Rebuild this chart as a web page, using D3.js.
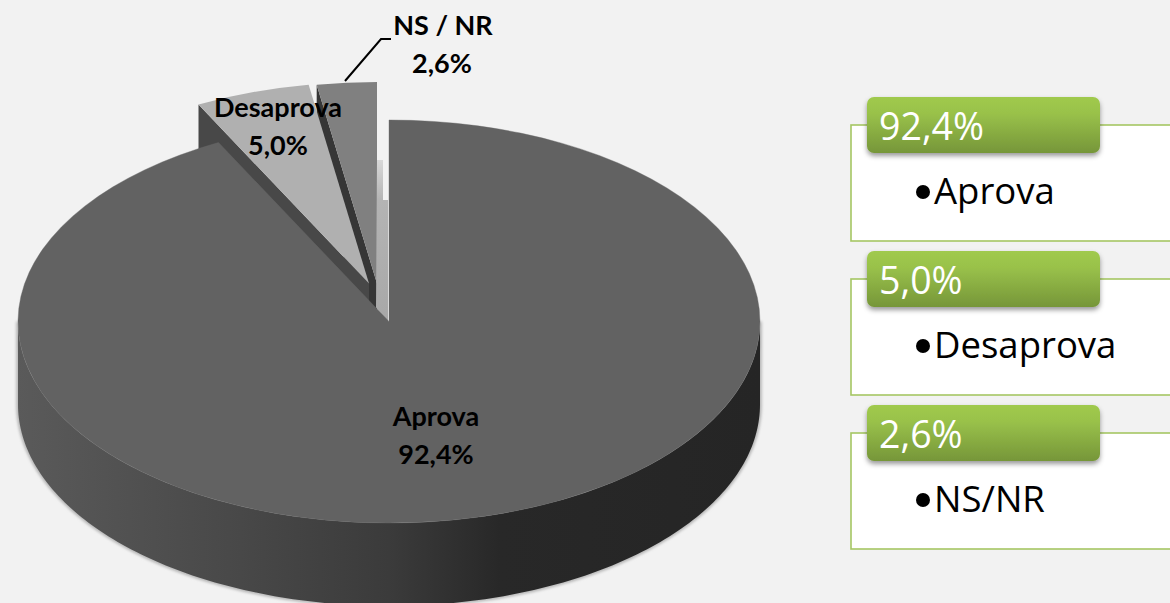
<!DOCTYPE html>
<html>
<head>
<meta charset="utf-8">
<script src="https://d3js.org/d3.v7.min.js"></script>
<style>
  html, body { margin: 0; padding: 0; background: #f2f2f2; overflow: hidden; }
  .pie-label { font-family: Lato, sans-serif; font-weight: 700; font-size: 27px; fill: #000; text-anchor: middle; }
  .tab-text { font-family: "Open Sans", sans-serif; font-size: 37.5px; fill: #fff; }
  .item-text { font-family: "Open Sans", sans-serif; font-size: 36.5px; fill: #000; }
</style>
</head>
<body>
<script>
const categories = ["Aprova", "Desaprova", "NS / NR"];
const values = [92.4, 5.0, 2.6];
const valueLabels = ["92,4%", "5,0%", "2,6%"];
const legendNames = ["Aprova", "Desaprova", "NS/NR"];
const topColors = ["#626262", "#b0b0b0", "#808080"];
const wallColors = ["#505050", "#484848", "#363636"];
const explode = [[0, 0], [-20, -38], [-12, -38]];
const labelPos = [[436, 426], [278, 117], [443, 35]];

const width = 1170, height = 603;
const cx = 389, cy = 321.5, rx = 371, ry = 201.5, depth = 83;

const svg = d3.select("body").append("svg")
  .attr("width", width).attr("height", height)
  .style("display", "block");

const defs = svg.append("defs");

const sideGrad = defs.append("linearGradient").attr("id", "side")
  .attr("x1", 0).attr("x2", 1).attr("y1", 0).attr("y2", 0);
[[0, "#5a5a5a"], [0.3, "#484848"], [0.5, "#3b3b3b"], [0.65, "#282828"], [1, "#252525"]]
  .forEach(s => sideGrad.append("stop").attr("offset", s[0]).attr("stop-color", s[1]));

const tabGrad = defs.append("linearGradient").attr("id", "tab")
  .attr("x1", 0).attr("x2", 0).attr("y1", 0).attr("y2", 1);
[[0, "#a0ca4d"], [0.3, "#99c14a"], [1, "#769639"]]
  .forEach(s => tabGrad.append("stop").attr("offset", s[0]).attr("stop-color", s[1]));

const gapGrad = defs.append("linearGradient").attr("id", "gap")
  .attr("x1", 0).attr("x2", 0).attr("y1", 0).attr("y2", 1);
[[0, "#d8d8d8"], [0.25, "#b4b4b4"], [1, "#a8a8a8"]]
  .forEach(s => gapGrad.append("stop").attr("offset", s[0]).attr("stop-color", s[1]));

const shadow = defs.append("filter").attr("id", "tabShadow")
  .attr("x", "-5%").attr("y", "-10%").attr("width", "110%").attr("height", "130%");
shadow.append("feDropShadow").attr("dx", 0).attr("dy", 3).attr("stdDeviation", 2.5)
  .attr("flood-color", "#000").attr("flood-opacity", 0.4);

const glow = defs.append("filter").attr("id", "rimGlow")
  .attr("x", "-3%").attr("y", "-3%").attr("width", "106%").attr("height", "106%");
glow.append("feGaussianBlur").attr("stdDeviation", 1.5);

// pie layout, clockwise from 12 o'clock
const pie = d3.pie().sort(null).value(d => d)(values);
const arc = d3.arc().innerRadius(0).outerRadius(rx);
const squash = ry / rx;

function corner(angle, off) {
  return [cx + off[0] + rx * Math.sin(angle), cy + off[1] - ry * Math.cos(angle)];
}

function sideWall(i) {
  const off = explode[i];
  const tip = [cx + off[0], cy + off[1]];
  const c = corner(pie[i].startAngle, off);
  return d3.line()([tip, c, [c[0], c[1] + depth], [tip[0], tip[1] + depth]]);
}

function sliceTop(i) {
  return svg.append("path")
    .attr("d", arc(pie[i]))
    .attr("transform", `translate(${cx + explode[i][0]},${cy + explode[i][1]}) scale(1,${squash})`)
    .attr("fill", topColors[i]);
}

// back slices first
svg.append("path").attr("d", sideWall(2)).attr("fill", wallColors[2]);
svg.append("path").attr("d", sideWall(1)).attr("fill", wallColors[1]);
sliceTop(1);
sliceTop(2);

// light inner face visible in the gap
svg.append("path")
  .attr("d", d3.line()([[cx - 12, 160], [cx - 6, 160], [cx - 6, 200], [cx - 1, 200], [cx - 1, cy], [cx - 13, cy - 14]]))
  .attr("fill", "url(#gap)");

// main body outer wall
const bodyPath = (() => {
  const p = d3.path();
  const n = d3.range(0, 181).map(d => d * Math.PI / 180);
  n.forEach((a, k) => {
    const x = cx + rx * Math.cos(a), y = cy + ry * Math.sin(a);
    if (k === 0) p.moveTo(x, y); else p.lineTo(x, y);
  });
  n.slice().reverse().forEach(a => {
    p.lineTo(cx + rx * Math.cos(a), cy + depth + ry * Math.sin(a));
  });
  p.closePath();
  return p.toString();
})();

svg.append("path").attr("d", bodyPath).attr("fill", "none")
  .attr("stroke", "#a8a8a8").attr("stroke-width", 3).attr("filter", "url(#rimGlow)");
svg.append("path").attr("d", bodyPath).attr("fill", "url(#side)");

sliceTop(0).attr("stroke", "#686868").attr("stroke-width", 0.5);

// leader line for the small slice
svg.append("path")
  .attr("d", d3.line()([[345, 81], [381, 39], [391, 39]]))
  .attr("fill", "none").attr("stroke", "#000").attr("stroke-width", 2);

// pie labels
categories.forEach((c, i) => {
  svg.append("text").attr("class", "pie-label")
    .attr("x", labelPos[i][0]).attr("y", labelPos[i][1]).text(c);
  svg.append("text").attr("class", "pie-label")
    .attr("x", labelPos[i][0] - (i === 2 ? 1 : 0)).attr("y", labelPos[i][1] + 38).text(valueLabels[i]);
});

// legend panels on the right
const panelY = d3.scalePoint().domain(legendNames).range([125, 433]);

const panel = svg.selectAll("g.panel").data(legendNames).join("g")
  .attr("class", "panel")
  .attr("transform", d => `translate(0,${panelY(d)})`);

panel.append("rect")
  .attr("x", 851).attr("y", 0).attr("width", 340).attr("height", 116)
  .attr("fill", "#fff").attr("stroke", "#a5c663").attr("stroke-width", 1.6);

panel.append("rect")
  .attr("x", 867).attr("y", -28).attr("width", 233).attr("height", 56).attr("rx", 7)
  .attr("fill", "url(#tab)").attr("filter", "url(#tabShadow)");

panel.append("text").attr("class", "tab-text")
  .attr("x", 879).attr("y", 15)
  .text((d, i) => valueLabels[i]);

panel.append("circle")
  .attr("cx", 923).attr("cy", 67).attr("r", 7).attr("fill", "#000");

panel.append("text").attr("class", "item-text")
  .attr("x", 934).attr("y", 79)
  .text(d => d);
</script>
</body>
</html>
